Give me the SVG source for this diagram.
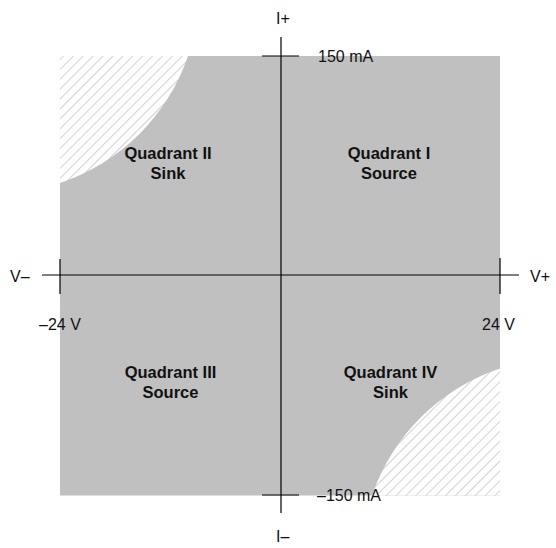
<svg xmlns="http://www.w3.org/2000/svg" width="556" height="548" viewBox="0 0 556 548">
<style>
.lbl{font-family:"Liberation Sans",Arial,sans-serif;font-size:16px;fill:#111}
.q{font-family:"Liberation Sans",Arial,sans-serif;font-size:16.5px;font-weight:bold;fill:#111;text-anchor:middle}
.ax{stroke:#000;stroke-width:1.2;fill:none}
</style>
<defs>
<pattern id="hatch" patternUnits="userSpaceOnUse" width="7" height="7" patternTransform="rotate(45)">
<rect width="7" height="7" fill="#fff"/>
<line x1="0" y1="0" x2="0" y2="7" stroke="#a8a8a8" stroke-width="1"/>
</pattern>
</defs>
<rect width="556" height="548" fill="#fff"/>
<g id="plane">
<rect x="60" y="56" width="440" height="439.5" fill="#c0c0c1"/>
<path d="M60,56 H188 A203,203 0 0 1 60,183 Z" fill="url(#hatch)"/>
<path d="M500,495.5 H372 A203,203 0 0 1 500,368.5 Z" fill="url(#hatch)"/>
</g>
<g id="connectors">
<line class="ax" x1="42" y1="275" x2="519" y2="275"/>
<line class="ax" x1="281" y1="37" x2="281" y2="513"/>
<line class="ax" x1="60" y1="259" x2="60" y2="294"/>
<line class="ax" x1="500" y1="258" x2="500" y2="294"/>
<line class="ax" x1="262" y1="56" x2="299" y2="56"/>
<line class="ax" x1="262" y1="495" x2="299" y2="495"/>
</g>
<g id="axis-labels">
<text class="lbl" x="276" y="24">I+</text>
<text class="lbl" x="276" y="542">I–</text>
<text class="lbl" x="10" y="282">V–</text>
<text class="lbl" x="530" y="282">V+</text>
<text class="lbl" x="318" y="62">150 mA</text>
<text class="lbl" x="317" y="501">–150 mA</text>
<text class="lbl" x="39" y="330">–24 V</text>
<text class="lbl" x="482" y="330">24 V</text>
</g>
<g id="q2"><text class="q" x="168" y="158.5">Quadrant II</text><text class="q" x="168" y="178.5">Sink</text></g>
<g id="q1"><text class="q" x="389" y="158.5">Quadrant I</text><text class="q" x="389" y="178.5">Source</text></g>
<g id="q3"><text class="q" x="170.5" y="378">Quadrant III</text><text class="q" x="170.5" y="398">Source</text></g>
<g id="q4"><text class="q" x="390.5" y="378">Quadrant IV</text><text class="q" x="390.5" y="398">Sink</text></g>
</svg>
